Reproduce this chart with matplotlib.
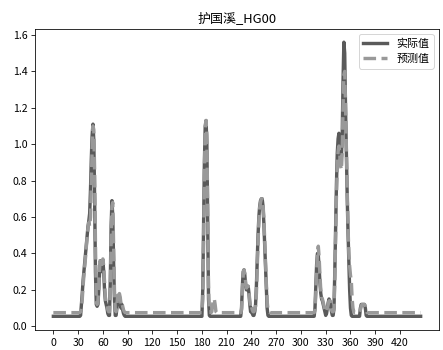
import matplotlib
matplotlib.use("Agg")
import matplotlib.pyplot as plt
import numpy as np

plt.rcParams['font.family'] = ['Noto Sans CJK SC', 'DejaVu Sans']
plt.rcParams['axes.unicode_minus'] = False

title = "护国溪_HG00"
labels = ["实际值", "预测值"]
xticks = list(range(0, 421, 30))

# actual values (segments along the time index)
act_base = 0.055
act_seg1 = [0.06, 0.12, 0.18, 0.25, 0.30, 0.35, 0.40, 0.45, 0.50, 0.55, 0.58, 0.62, 0.75, 0.92, 1.05, 1.11, 1.02, 0.70, 0.30, 0.12,
            0.11, 0.12, 0.20, 0.30, 0.36, 0.33, 0.30, 0.36, 0.30, 0.20, 0.14, 0.12, 0.10, 0.07, 0.06, 0.06, 0.25, 0.55, 0.69, 0.60,
            0.35, 0.15, 0.06, 0.06, 0.10, 0.15, 0.12, 0.16, 0.14, 0.10, 0.12, 0.09, 0.07, 0.06, 0.055]
act_seg2 = [0.20, 0.55, 0.90, 1.10, 1.13, 1.00, 0.55, 0.15, 0.06]
act_seg3 = [0.10, 0.22, 0.30, 0.31, 0.28, 0.22, 0.20, 0.21, 0.22, 0.18, 0.12, 0.08, 0.10, 0.07, 0.06, 0.06, 0.08, 0.12, 0.22, 0.36,
            0.50, 0.60, 0.66, 0.69, 0.70, 0.70, 0.66, 0.57, 0.45, 0.32, 0.20, 0.10, 0.06, 0.055]
act_seg4 = [0.10, 0.22, 0.34, 0.40, 0.39, 0.32, 0.24, 0.18, 0.15, 0.14, 0.12, 0.10, 0.08, 0.06, 0.07, 0.10, 0.13, 0.15, 0.14, 0.11,
            0.08, 0.06, 0.06, 0.10, 0.30, 0.55, 0.78, 0.95, 1.03, 1.06, 1.02, 0.95, 0.93, 1.05, 1.35, 1.56, 1.50, 1.20, 0.95, 0.72,
            0.52, 0.35, 0.20, 0.10, 0.06, 0.055]
act_seg5 = [0.10, 0.12, 0.12, 0.12, 0.12, 0.12, 0.10, 0.06]

# predicted values
pre_base = 0.075
pre_seg1 = [0.08, 0.10, 0.15, 0.22, 0.28, 0.33, 0.38, 0.44, 0.50, 0.54, 0.57, 0.55, 0.60, 0.80, 0.98, 1.10, 1.08, 0.85, 0.45, 0.15,
            0.12, 0.14, 0.22, 0.32, 0.37, 0.36, 0.34, 0.37, 0.33, 0.24, 0.16, 0.13, 0.12, 0.09, 0.08, 0.08, 0.20, 0.48, 0.66, 0.68,
            0.45, 0.20, 0.09, 0.08, 0.12, 0.17, 0.14, 0.18, 0.16, 0.12, 0.13, 0.11, 0.09, 0.08, 0.075]
pre_seg2 = [0.15, 0.45, 0.85, 1.08, 1.13, 1.05, 0.65, 0.20, 0.08]
pre_bump = [0.08, 0.075, 0.08, 0.12, 0.15, 0.15, 0.12, 0.08]
pre_seg3 = [0.09, 0.18, 0.28, 0.31, 0.29, 0.24, 0.21, 0.22, 0.22, 0.19, 0.14, 0.10, 0.11, 0.09, 0.08, 0.08, 0.09, 0.11, 0.18, 0.32,
            0.46, 0.58, 0.65, 0.68, 0.70, 0.70, 0.67, 0.60, 0.48, 0.36, 0.24, 0.14, 0.09, 0.08]
pre_seg4 = [0.09, 0.18, 0.30, 0.40, 0.44, 0.38, 0.28, 0.20, 0.16, 0.15, 0.13, 0.11, 0.09, 0.08, 0.08, 0.10, 0.12, 0.14, 0.14, 0.12,
            0.09, 0.08, 0.08, 0.09, 0.25, 0.48, 0.72, 0.88, 0.96, 0.99, 0.95, 0.88, 0.86, 0.96, 1.20, 1.38, 1.40, 1.22, 0.98, 0.75,
            0.55, 0.40, 0.33, 0.28, 0.25, 0.15]
pre_tail = [0.10, 0.08]
pre_seg5 = [0.09, 0.11, 0.12, 0.12, 0.12, 0.12, 0.11, 0.09]

actual = ([act_base] * 33 + act_seg1 + [act_base] * 93 + act_seg2 + [act_base] * 38 + act_seg3
          + [act_base] * 55 + act_seg4 + [act_base] * 9 + act_seg5 + [act_base] * 66)
predicted = ([pre_base] * 33 + pre_seg1 + [pre_base] * 93 + pre_seg2 + pre_bump + [pre_base] * 30 + pre_seg3
             + [pre_base] * 55 + pre_seg4 + pre_tail + [pre_base] * 7 + pre_seg5 + [pre_base] * 66)

fig = plt.figure(figsize=(443 / 72, 350 / 72), dpi=72)
ax = fig.add_axes([35 / 443, 20 / 350, 404 / 443, 301.5 / 350])
ax.plot(np.arange(len(actual)), actual, color='#5a5a5a', linewidth=3.4, label=labels[0])
ax.plot(np.arange(len(predicted)), predicted, color='#999999', linewidth=3.4, linestyle='--', label=labels[1])
ax.set_xticks(xticks)
ax.set_title(title, fontsize=13, pad=6)
ax.tick_params(labelsize=10.5, length=4)
ax.legend(loc='upper right', fontsize=11, handlelength=2.2)
fig.savefig("out.png", dpi=72)
